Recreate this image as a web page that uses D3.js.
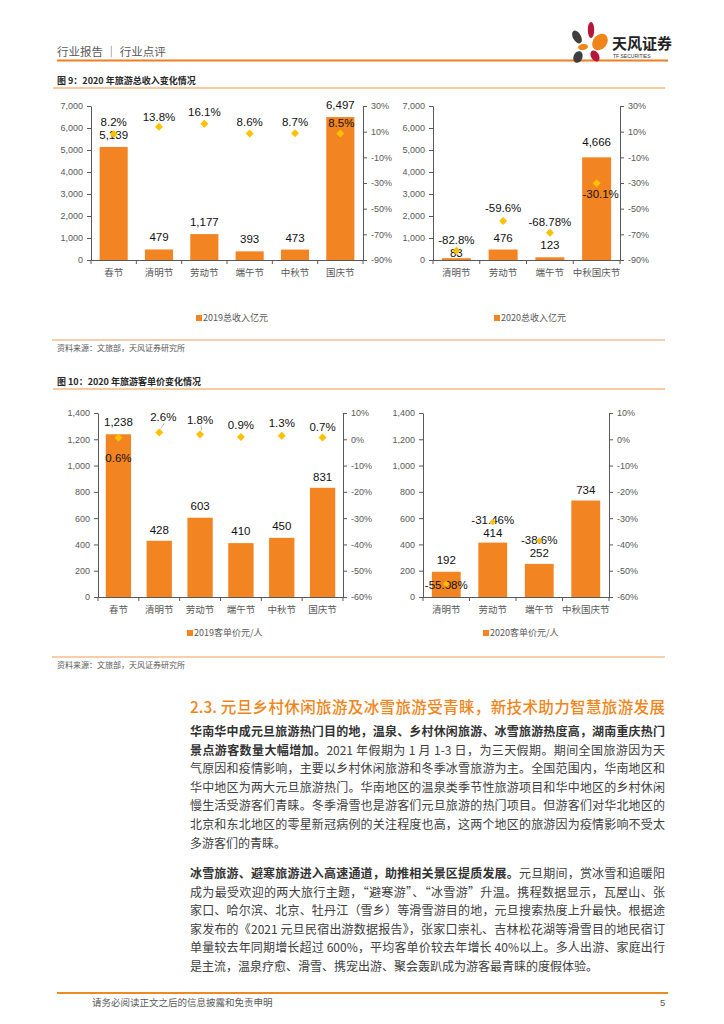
<!DOCTYPE html>
<html><head><meta charset="utf-8">
<script src="https://cdn.jsdelivr.net/npm/d3@7"></script>
<style>
body{margin:0;background:#fff;}
#page{position:relative;width:724px;height:1024px;overflow:hidden;font-family:"Noto Sans CJK SC","Noto Sans",sans-serif;}
#page svg{position:absolute;left:0;top:0;}
.ln{position:absolute;white-space:nowrap;text-align:justify;text-align-last:justify;font-size:12px;color:#404040;}
.ln.last{text-align-last:left;}
.ln b{font-weight:700;color:#333;}
</style></head><body><div id="page"></div>
<script>
// ---------- data ----------
const cats2019 = ["春节","清明节","劳动节","端午节","中秋节","国庆节"];
const cats2020 = ["清明节","劳动节","端午节","中秋国庆节"];
const revenue2019 = [5139,479,1177,393,473,6497];
const revenueGrowth2019 = [8.2,13.8,16.1,8.6,8.7,8.5];
const revenue2020 = [83,476,123,4666];
const revenueChange2020 = [-82.8,-59.6,-68.78,-30.1];
const price2019 = [1238,428,603,410,450,831];
const priceGrowth2019 = [0.6,2.6,1.8,0.9,1.3,0.7];
const price2020 = [192,414,252,734];
const priceChange2020 = [-55.08,-31.46,-38.6,null];
const revenueTicks = [0,1000,2000,3000,4000,5000,6000,7000];
const revenuePctTicks = [-90,-70,-50,-30,-10,10,30];
const priceTicks = [0,200,400,600,800,1000,1200,1400];
const pricePctTicks = [-60,-50,-40,-30,-20,-10,0,10];
const legendRevenue = ["2019总收入亿元","2020总收入亿元"];
const legendPrice = ["2019客单价元/人","2020客单价元/人"];

const ORANGE = "#F28522", GOLD = "#FFC000", AXIS = "#595959", TICKTXT = "#595959";
const NUMFONT = "'Liberation Sans',Arial,sans-serif";

const page = d3.select("#page");
const svg = page.append("svg").attr("width",724).attr("height",1024);

// ---------- header ----------
svg.append("text").attr("x",57).attr("y",56).attr("font-size",11.5).attr("fill","#595959")
  .text("行业报告 │ 行业点评");
svg.append("line").attr("x1",57).attr("x2",668).attr("y1",60.5).attr("y2",60.5)
  .attr("stroke","#EE7F22").attr("stroke-width",2);
// logo
const logo = svg.append("g");
[[577,37,4,7,-30,"#3f3f3f"],[591,30,3.2,8,0,"#B5173A"],[600,42,7,9,40,"#F08519"],
 [583,47,5,3,-10,"#F08519"],[578,57,4.5,6,20,"#3f3f3f"],[595,56,4,6,-30,"#B5173A"]]
 .forEach(([cx,cy,rx,ry,rot,c])=>{
   logo.append("ellipse").attr("cx",cx).attr("cy",cy).attr("rx",rx).attr("ry",ry)
     .attr("transform",`rotate(${rot},${cx},${cy})`).attr("fill",c);
 });
svg.append("text").attr("x",612).attr("y",49).attr("font-size",15).attr("font-weight",700)
  .attr("fill","#222").text("天风证券");
svg.append("text").attr("x",613).attr("y",57.5).attr("font-size",5).attr("font-family",NUMFONT)
  .attr("fill","#333").text("TF SECURITIES");

// ---------- figure titles / source lines ----------
function figTitle(y, t){
  svg.append("text").attr("x",57).attr("y",y+3.5).attr("font-size",9).attr("font-weight",700)
    .attr("fill","#262626").text(t);
  svg.append("line").attr("x1",53).attr("x2",665).attr("y1",y+8).attr("y2",y+8)
    .attr("stroke","#F9C9A0").attr("stroke-width",2);
}
function sourceLine(y){
  svg.append("line").attr("x1",52).attr("x2",665).attr("y1",y).attr("y2",y)
    .attr("stroke","#F29B55").attr("stroke-width",1.2);
  svg.append("text").attr("x",57).attr("y",y+11).attr("font-size",8).attr("fill","#595959")
    .text("资料来源：文旅部，天风证券研究所");
}
figTitle(80, "图 9：2020 年旅游总收入变化情况");
sourceLine(340);
figTitle(381, "图 10：2020 年旅游客单价变化情况");
sourceLine(657);

// ---------- chart drawer ----------
function drawChart(o){
  const g = svg.append("g");
  const x = d3.scaleBand().domain(o.cats).range([o.x0,o.x1]).paddingInner(0.38).paddingOuter(0.19);
  const y = d3.scaleLinear().domain([0,o.ticks[o.ticks.length-1]]).range([o.yb,o.yt]);
  const y2 = d3.scaleLinear().domain([o.pctTicks[0],o.pctTicks[o.pctTicks.length-1]]).range([o.yb,o.yt]);

  const styleAxis = sel=>{
    sel.select(".domain").attr("stroke",AXIS);
    sel.selectAll(".tick line").attr("stroke",AXIS);
    sel.selectAll("text").attr("fill",TICKTXT).attr("font-size",9).attr("font-family",NUMFONT);
  };
  g.append("g").attr("transform",`translate(${o.x0},0)`)
    .call(d3.axisLeft(y).tickValues(o.ticks).tickFormat(d3.format(",")).tickSize(4).tickSizeOuter(0).tickPadding(4))
    .call(styleAxis);
  g.append("g").attr("transform",`translate(${o.x1},0)`)
    .call(d3.axisRight(y2).tickValues(o.pctTicks).tickFormat(d=>d+"%").tickSize(4).tickSizeOuter(0).tickPadding(4))
    .call(styleAxis);

  // bars
  g.selectAll("rect.bar").data(o.vals).join("rect")
    .attr("x",(d,i)=>x(o.cats[i])).attr("width",x.bandwidth())
    .attr("y",d=>y(d)).attr("height",d=>o.yb-y(d)).attr("fill",ORANGE);

  // bottom axis with boundary ticks
  g.append("line").attr("x1",o.x0).attr("x2",o.x1).attr("y1",o.yb+0.5).attr("y2",o.yb+0.5).attr("stroke",AXIS);
  d3.range(o.cats.length+1).forEach(i=>{
    const bx = o.x0 + (o.x1-o.x0)*i/o.cats.length;
    g.append("line").attr("x1",bx).attr("x2",bx).attr("y1",o.yb).attr("y2",o.yb+4).attr("stroke",AXIS);
  });
  g.selectAll("text.cat").data(o.cats).join("text")
    .attr("x",d=>x(d)+x.bandwidth()/2).attr("y",o.yb+16).attr("text-anchor","middle")
    .attr("font-size",9.5).attr("fill",TICKTXT).text(d=>d);

  // value labels
  g.selectAll("text.val").data(o.vals).join("text")
    .attr("x",(d,i)=>x(o.cats[i])+x.bandwidth()/2)
    .attr("y",(d,i)=>y(d)+o.valDy[i]+4)
    .attr("text-anchor","middle").attr("font-size",11.5).attr("font-family",NUMFONT).attr("fill","#111")
    .text(d=>d3.format(",")(d));

  // leader lines
  (o.leaders||[]).forEach(i=>{
    const cx = x(o.cats[i])+x.bandwidth()/2, cy = y2(o.pcts[i]);
    g.append("line").attr("x1",cx+1.5).attr("y1",cy-4).attr("x2",cx+o.pctDx[i]+1).attr("y2",cy+o.pctDy[i]+6)
      .attr("stroke","#a6a6a6").attr("stroke-width",0.8);
  });

  // pct labels
  const pts = o.pcts.map((p,i)=>({p,i})).filter(d=>d.p!==null);
  const drawMarkers = ()=>g.selectAll("path.mk").data(pts).join("path")
    .attr("d",d=>{const cx=x(o.cats[d.i])+x.bandwidth()/2, cy=y2(d.p), r=o.mr;
      return `M${cx},${cy-r}L${cx+r},${cy}L${cx},${cy+r}L${cx-r},${cy}Z`;})
    .attr("fill",GOLD);
  if(!o.markersOnTop) drawMarkers();
  g.selectAll("text.pct").data(pts).join("text")
    .attr("x",d=>x(o.cats[d.i])+x.bandwidth()/2+o.pctDx[d.i])
    .attr("y",d=>y2(d.p)+o.pctDy[d.i]+4)
    .attr("text-anchor","middle").attr("font-size",11.5).attr("font-family",NUMFONT).attr("fill","#111")
    .text(d=>d.p+"%");
  if(o.markersOnTop) drawMarkers();

  // legend
  g.append("rect").attr("x",o.lx).attr("y",o.ly-3).attr("width",6).attr("height",6).attr("fill",ORANGE);
  g.append("text").attr("x",o.lx+7).attr("y",o.ly+3.3).attr("font-size",9).attr("fill",TICKTXT).text(o.legend);
}

drawChart({cats:cats2019, vals:revenue2019, pcts:revenueGrowth2019, ticks:revenueTicks, pctTicks:revenuePctTicks,
  x0:91, x1:363, yt:106, yb:260, mr:4,
  valDy:[-12,-12,-12,-12,-12,-12], pctDy:[-12,-10,-12,-11,-11,-11], pctDx:[0,0,0,0,0,1],
  legend:legendRevenue[0], lx:196, ly:318});
drawChart({cats:cats2020, vals:revenue2020, pcts:revenueChange2020, ticks:revenueTicks, pctTicks:revenuePctTicks,
  x0:433, x1:620, yt:106, yb:260, mr:4,
  valDy:[-5,-12,-12,-15], pctDy:[-11,-12.5,-11,10.5], pctDx:[0,0,0,4],
  legend:legendRevenue[1], lx:494, ly:318});
drawChart({cats:cats2019, vals:price2019, pcts:priceGrowth2019, ticks:priceTicks, pctTicks:pricePctTicks,
  x0:98, x1:343, yt:413, yb:597, mr:4, leaders:[1,2],
  valDy:[-12,-11,-12,-12,-12,-11], pctDy:[20,-15,-15,-12,-13,-10], pctDx:[0,4,0,0,0,0],
  legend:legendPrice[0], lx:187, ly:633});
drawChart({cats:cats2020, vals:price2020, pcts:priceChange2020, ticks:priceTicks, pctTicks:pricePctTicks,
  x0:423, x1:609, yt:413, yb:597, mr:3.2, markersOnTop:true,
  valDy:[-11.5,-9.5,-10.5,-11], pctDy:[1,-2,-1,0], pctDx:[0,0,0,0],
  legend:legendPrice[1], lx:483, ly:633});

// ---------- section heading & paragraphs ----------
page.append("div").attr("class","ln")
  .style("left","190px").style("top","695px").style("width","475px")
  .style("font-size","15.5px").style("color","#F08519").style("font-weight","500")
  .text("2.3. 元旦乡村休闲旅游及冰雪旅游受青睐，新技术助力智慧旅游发展");

const para1 = [
  ["<b>华南华中成元旦旅游热门目的地，温泉、乡村休闲旅游、冰雪旅游热度高，湖南重庆热门</b>"],
  ["<b>景点游客数量大幅增加。</b>2021 年假期为 1 月 1-3 日，为三天假期。期间全国旅游因为天"],
  ["气原因和疫情影响，主要以乡村休闲旅游和冬季冰雪旅游为主。全国范围内，华南地区和"],
  ["华中地区为两大元旦旅游热门。华南地区的温泉类季节性旅游项目和华中地区的乡村休闲"],
  ["慢生活受游客们青睐。冬季滑雪也是游客们元旦旅游的热门项目。但游客们对华北地区的"],
  ["北京和东北地区的零星新冠病例的关注程度也高，这两个地区的旅游因为疫情影响不受太"],
  ["多游客们的青睐。"]
];
const para2 = [
  ["<b>冰雪旅游、避寒旅游进入高速通道，助推相关景区提质发展。</b>元旦期间，赏冰雪和追暖阳"],
  ["成为最受欢迎的两大旅行主题，“避寒游”、“冰雪游”升温。携程数据显示，瓦屋山、张"],
  ["家口、哈尔滨、北京、牡丹江（雪乡）等滑雪游目的地，元旦搜索热度上升最快。根据途"],
  ["家发布的《2021 元旦民宿出游数据报告》，张家口崇礼、吉林松花湖等滑雪目的地民宿订"],
  ["单量较去年同期增长超过 600%，平均客单价较去年增长 40%以上。多人出游、家庭出行"],
  ["是主流，温泉疗愈、滑雪、携宠出游、聚会轰趴成为游客最青睐的度假体验。"]
];
function para(lines, y0, lh){
  lines.forEach((l,i)=>{
    page.append("div").attr("class","ln"+(i===lines.length-1?" last":""))
      .style("left","190px").style("top",(y0+i*lh-9)+"px").style("width","475px")
      .style("line-height","18px").html(l[0]);
  });
}
para(para1, 731, 18.6);
para(para2, 873, 18.6);

// ---------- footer ----------
svg.append("line").attr("x1",57).attr("x2",668).attr("y1",993).attr("y2",993)
  .attr("stroke","#EE8A22").attr("stroke-width",2);
svg.append("text").attr("x",92).attr("y",1006).attr("font-size",9.5).attr("fill","#595959")
  .text("请务必阅读正文之后的信息披露和免责申明");
svg.append("text").attr("x",660).attr("y",1006).attr("font-size",9.5).attr("fill","#595959")
  .attr("font-family",NUMFONT).text("5");
</script></body></html>
